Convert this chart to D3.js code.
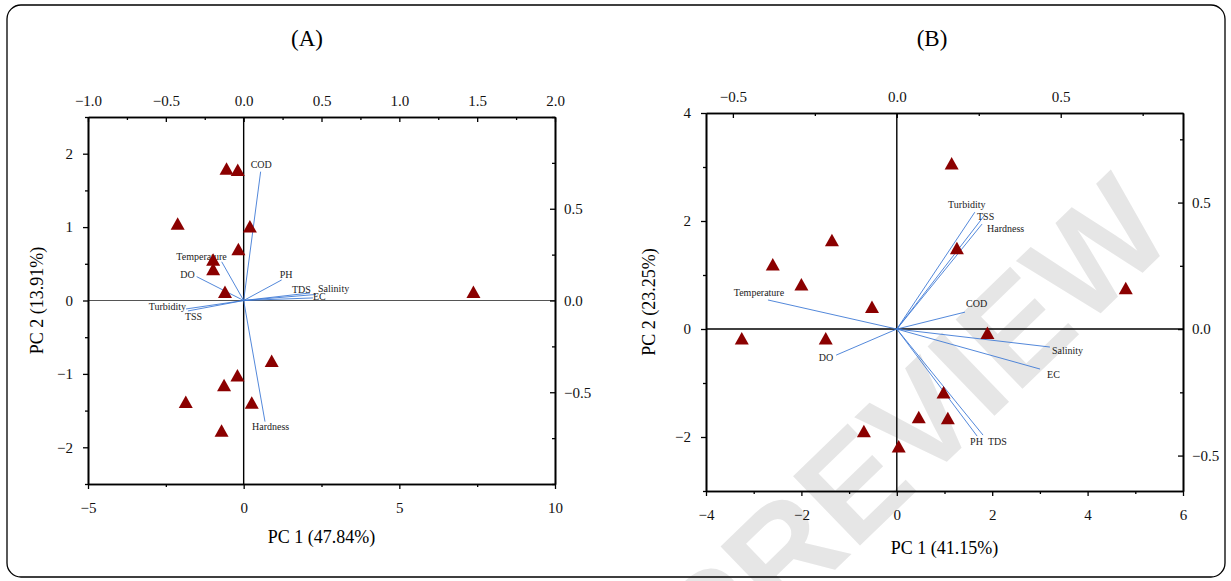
<!DOCTYPE html>
<html><head><meta charset="utf-8">
<script src="https://cdn.jsdelivr.net/npm/d3@7"></script>
<style>body{margin:0;background:#fff}</style>
</head><body>
<svg id="c" width="1231" height="581" xmlns="http://www.w3.org/2000/svg"></svg>
<script>
// ---------- DATA ----------
// Panel A scores (PC1, PC2)
const scoresA_x = [-0.55, -0.19, -2.12, 0.20, -0.17, -0.98, -0.98, -0.60, 7.38, 0.90, -0.20, -0.63, -1.86, 0.26, -0.71];
const scoresA_y = [1.80, 1.78, 1.05, 1.01, 0.70, 0.56, 0.43, 0.12, 0.12, -0.82, -1.02, -1.15, -1.38, -1.39, -1.77];
// Panel A loadings
const varsA = ["COD", "Temperature", "DO", "PH", "TDS", "Salinity", "EC", "Turbidity", "TSS", "Hardness"];
const loadA_x = [0.109, -0.141, -0.302, 0.244, 0.426, 0.465, 0.445, -0.370, -0.358, 0.137];
const loadA_y = [0.702, 0.211, 0.130, 0.112, 0.041, 0.033, 0.014, -0.046, -0.057, -0.660];
// Panel B scores
const scoresB_x = [1.15, 1.26, -1.36, -2.60, -2.00, -0.52, 4.80, -3.25, -1.49, 1.90, 0.98, 0.46, 1.07, -0.69, 0.04];
const scoresB_y = [3.07, 1.50, 1.65, 1.20, 0.83, 0.41, 0.76, -0.17, -0.17, -0.07, -1.17, -1.63, -1.65, -1.89, -2.17];
// Panel B loadings
const varsB = ["Turbidity", "TSS", "Hardness", "Temperature", "COD", "DO", "Salinity", "EC", "PH", "TDS"];
const loadB_x = [0.238, 0.266, 0.260, -0.393, 0.208, -0.185, 0.467, 0.437, 0.245, 0.263];
const loadB_y = [0.462, 0.447, 0.415, 0.115, 0.067, -0.103, -0.071, -0.158, -0.423, -0.419];

// Tick values
const ticksA_bottom = [-5, 0, 5, 10];
const ticksA_left = [-2, -1, 0, 1, 2];
const ticksA_top = [-1.0, -0.5, 0.0, 0.5, 1.0, 1.5, 2.0];
const ticksA_right = [-0.5, 0.0, 0.5];
const ticksB_bottom = [-4, -2, 0, 2, 4, 6];
const ticksB_left = [-2, 0, 2, 4];
const ticksB_top = [-0.5, 0.0, 0.5];
const ticksB_right = [-0.5, 0.0, 0.5];

const titles = ["(A)", "(B)"];
const xTitles = ["PC 1 (47.84%)", "PC 1 (41.15%)"];
const yTitles = ["PC 2 (13.91%)", "PC 2 (23.25%)"];

// ---------- LAYOUT / STYLE ----------
const svg = d3.select("#c");
const FONT = "'Liberation Serif', 'Times New Roman', serif";
const RED = "#8b0000";
const BLUE = "#3f7bd6";

// watermark (under content)
svg.append("text")
  .attr("transform", "translate(912,428) rotate(-44)")
  .attr("text-anchor", "middle").attr("dominant-baseline", "central")
  .style("font-family", "'Liberation Sans', Arial, sans-serif")
  .style("font-size", "140px").style("font-weight", "bold")
  .style("fill", "#e6e6e6")
  .text("PREVIEW");

// rounded outer border
svg.append("rect").attr("x", 7).attr("y", 5).attr("width", 1218).attr("height", 572)
  .attr("rx", 14).attr("fill", "none").attr("stroke", "#000").attr("stroke-width", 1.3);

// label offsets (anchor, dx, dy relative to vector end)
const labA = {
  "COD": ["start", -10, -4], "Temperature": ["end", 5, -2], "DO": ["end", -2, 1.5],
  "PH": ["start", -2, -2], "TDS": ["start", -18, 0.5], "Salinity": ["start", 2, -2],
  "EC": ["start", 0, 2], "Turbidity": ["end", 0, 1], "TSS": ["start", -3, 9],
  "Hardness": ["start", -13, 8]
};
const labB = {
  "Turbidity": ["middle", -8, -4.5], "TSS": ["start", -7, 4.5], "Hardness": ["start", 5, 7.5],
  "Temperature": ["middle", -9, -3.5], "COD": ["start", 1, -5.5], "DO": ["end", -3, 5.5],
  "Salinity": ["start", 2, 6.5], "EC": ["start", 7, 8.5], "PH": ["start", -7, 8.5],
  "TDS": ["start", 5, 9.5]
};

function tri(cx, cy) {
  const w = 7, h = 12.5;
  return `M${cx},${cy - h / 2}L${cx + w},${cy + h / 2}L${cx - w},${cy + h / 2}Z`;
}

function panel(cfg) {
  const g = svg.append("g");
  const x = d3.scaleLinear(cfg.xDom, [cfg.L, cfg.R]);
  const y = d3.scaleLinear(cfg.yDom, [cfg.B, cfg.T]);
  const xt = d3.scaleLinear(cfg.xtDom, [cfg.L, cfg.R]);
  const yr = d3.scaleLinear(cfg.yrDom, [cfg.B, cfg.T]);

  // zero lines
  g.append("line").attr("x1", cfg.L).attr("x2", cfg.R).attr("y1", y(0)).attr("y2", y(0))
    .attr("stroke", cfg.hzColor).attr("stroke-width", cfg.hzW);
  g.append("line").attr("x1", x(0)).attr("x2", x(0)).attr("y1", cfg.T).attr("y2", cfg.B)
    .attr("stroke", "#000").attr("stroke-width", 1.4);

  // vectors
  const vec = cfg.vars.map((n, i) => ({ n, lx: cfg.lx[i], ly: cfg.ly[i] }));
  g.selectAll(".vec").data(vec).enter().append("line")
    .attr("x1", xt(0)).attr("y1", yr(0))
    .attr("x2", d => xt(d.lx)).attr("y2", d => yr(d.ly))
    .attr("stroke", BLUE).attr("stroke-width", 0.9);
  g.selectAll(".vlab").data(vec).enter().append("text")
    .attr("x", d => xt(d.lx) + cfg.lab[d.n][1])
    .attr("y", d => yr(d.ly) + cfg.lab[d.n][2])
    .attr("text-anchor", d => cfg.lab[d.n][0])
    .style("font-family", FONT).style("font-size", cfg.labSize + "px").style("fill", "#222")
    .text(d => d.n);

  // points
  const pts = cfg.sx.map((v, i) => ({ x: v, y: cfg.sy[i] }));
  g.selectAll(".pt").data(pts).enter().append("path")
    .attr("d", d => tri(x(d.x), y(d.y))).attr("fill", RED);

  // axes
  const fmt1 = d3.format(".1f"), fmt0 = d3.format("d");
  function styleAxis(a) {
    a.select(".domain").attr("stroke", "#000").attr("stroke-width", 1.6);
    a.selectAll(".tick line").attr("stroke", "#000").attr("stroke-width", 1.3);
    a.selectAll("text").style("font-family", FONT).style("font-size", "15px").style("fill", "#111");
  }
  function minorFilter(vals, major) { return vals.filter(v => !major.some(m => Math.abs(m - v) < 1e-9)); }

  // bottom
  let a = g.append("g").attr("transform", `translate(0,${cfg.B})`)
    .call(d3.axisBottom(x).tickValues(cfg.tb).tickFormat(fmt0).tickSize(5).tickSizeOuter(0).tickPadding(cfg.padB));
  styleAxis(a);
  a = g.append("g").attr("transform", `translate(0,${cfg.B})`)
    .call(d3.axisBottom(x).tickValues(minorFilter(cfg.tbMinor, cfg.tb)).tickFormat("").tickSize(3).tickSizeOuter(0));
  styleAxis(a);
  // left
  a = g.append("g").attr("transform", `translate(${cfg.L},0)`)
    .call(d3.axisLeft(y).tickValues(cfg.tl).tickFormat(fmt0).tickSize(5).tickSizeOuter(0).tickPadding(cfg.padL));
  styleAxis(a);
  a = g.append("g").attr("transform", `translate(${cfg.L},0)`)
    .call(d3.axisLeft(y).tickValues(minorFilter(cfg.tlMinor, cfg.tl)).tickFormat("").tickSize(3).tickSizeOuter(0));
  styleAxis(a);
  // top (inward ticks)
  a = g.append("g").attr("transform", `translate(0,${cfg.T})`)
    .call(d3.axisTop(xt).tickValues(cfg.tt).tickFormat(fmt1).tickSize(-5).tickSizeOuter(0).tickPadding(cfg.padT));
  styleAxis(a);
  a = g.append("g").attr("transform", `translate(0,${cfg.T})`)
    .call(d3.axisTop(xt).tickValues(minorFilter(cfg.ttMinor, cfg.tt)).tickFormat("").tickSize(-3).tickSizeOuter(0));
  styleAxis(a);
  // right (inward ticks)
  a = g.append("g").attr("transform", `translate(${cfg.R},0)`)
    .call(d3.axisRight(yr).tickValues(cfg.tr).tickFormat(fmt1).tickSize(-5).tickSizeOuter(0).tickPadding(cfg.padR));
  styleAxis(a);
  a = g.append("g").attr("transform", `translate(${cfg.R},0)`)
    .call(d3.axisRight(yr).tickValues(minorFilter(cfg.trMinor, cfg.tr)).tickFormat("").tickSize(-3).tickSizeOuter(0));
  styleAxis(a);

  // titles
  g.append("text").attr("x", cfg.titleX).attr("y", cfg.titleY).attr("text-anchor", "middle")
    .style("font-family", FONT).style("font-size", "23px").text(cfg.title);
  g.append("text").attr("x", (cfg.L + cfg.R) / 2).attr("y", cfg.xtY).attr("text-anchor", "middle")
    .style("font-family", FONT).style("font-size", "18px").text(cfg.xTitle);
  g.append("text").attr("transform", `translate(${cfg.ytX},${(cfg.T + cfg.B) / 2}) rotate(-90)`)
    .attr("text-anchor", "middle")
    .style("font-family", FONT).style("font-size", "18px").text(cfg.yTitle);
}

panel({
  L: 88, R: 555, T: 117, B: 484,
  xDom: [-5, 10], yDom: [-2.5, 2.5], xtDom: [-1, 2], yrDom: [-1, 1],
  hzColor: "#555", hzW: 1.2,
  vars: varsA, lx: loadA_x, ly: loadA_y, lab: labA, labSize: 10,
  sx: scoresA_x, sy: scoresA_y,
  tb: ticksA_bottom, tbMinor: d3.range(-5, 10.01, 2.5),
  tl: ticksA_left, tlMinor: d3.range(-2.5, 2.51, 0.5),
  tt: ticksA_top, ttMinor: d3.range(-1, 2.01, 0.25),
  tr: ticksA_right, trMinor: d3.range(-1, 1.01, 0.25),
  padB: 13, padL: 10, padT: 11, padR: 9,
  title: titles[0], titleX: 307, titleY: 46, xTitle: xTitles[0], xtY: 543, yTitle: yTitles[0], ytX: 43
});

panel({
  L: 706, R: 1183, T: 113, B: 491,
  xDom: [-4, 6], yDom: [-3, 4], xtDom: [-0.582, 0.873], yrDom: [-0.640, 0.854],
  hzColor: "#000", hzW: 1.4,
  vars: varsB, lx: loadB_x, ly: loadB_y, lab: labB, labSize: 10,
  sx: scoresB_x, sy: scoresB_y,
  tb: ticksB_bottom, tbMinor: d3.range(-4, 6.01, 1),
  tl: ticksB_left, tlMinor: d3.range(-3, 4.01, 1),
  tt: ticksB_top, ttMinor: d3.range(-0.5, 0.76, 0.25),
  tr: ticksB_right, trMinor: d3.range(-0.5, 0.76, 0.25),
  padB: 13, padL: 10, padT: 11, padR: 9,
  title: titles[1], titleX: 932, titleY: 46, xTitle: xTitles[1], xtY: 554, yTitle: yTitles[1], ytX: 655
});
</script>
</body></html>
